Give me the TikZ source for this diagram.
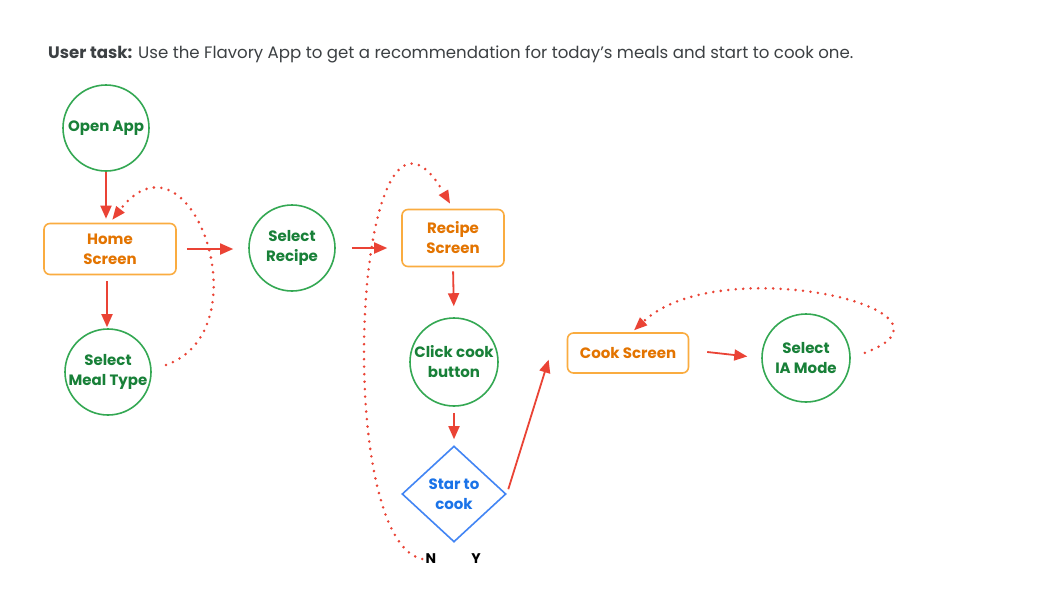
\documentclass[tikz,border=0pt]{standalone}
\usepackage{fontspec}
\setmainfont{Poppins}
\usetikzlibrary{positioning,calc,shapes.geometric,arrows.meta}
\definecolor{stepGreen}{RGB}{52,168,83}
\definecolor{stepGreenText}{RGB}{24,128,56}
\definecolor{screenOrange}{RGB}{250,172,64}
\definecolor{screenOrangeText}{RGB}{227,116,0}
\definecolor{choiceBlue}{RGB}{66,133,244}
\definecolor{choiceBlueText}{RGB}{26,115,232}
\definecolor{flowRed}{RGB}{234,67,53}
\definecolor{titleGray}{RGB}{60,64,67}
\tikzset{
  stepCircle/.style={circle,draw=stepGreen,line width=1.6pt,minimum size=86pt,inner sep=0pt,
    text=stepGreenText,align=center,font=\fontsize{15}{20}\selectfont\bfseries},
  screenBox/.style={rectangle,rounded corners=6pt,draw=screenOrange,line width=1.6pt,inner sep=0pt,
    text=screenOrangeText,align=center,font=\fontsize{15}{20}\selectfont\bfseries},
  choiceBox/.style={diamond,draw=choiceBlue,line width=1.6pt,minimum width=104pt,minimum height=96pt,
    inner sep=0pt,text=choiceBlueText,align=center,font=\fontsize{15}{20}\selectfont\bfseries},
  flowArrow/.style={draw=flowRed,line width=1.8pt,-{Triangle[length=13pt,width=11pt]}},
  loopArrow/.style={draw=flowRed,line width=2.8pt,line cap=round,dash pattern=on 0pt off 7.5pt,
    -{Triangle[length=13pt,width=11pt,line width=0pt]}}
}
\begin{document}
\begin{tikzpicture}[x=1pt,y=-1pt]
  \useasboundingbox[fill=white] (0,0) rectangle (1056,590);
  % task line
  \node[anchor=west,inner sep=0pt,text=titleGray,font=\fontsize{16.6}{20}\selectfont] (task) at (48,54)
    {\textbf{User task:} Use the Flavory App to get a recommendation for today’s meals and start to cook one.};
  % steps
  \node[stepCircle] (openApp) at (106,128) {Open App};
  \node[screenBox,minimum width=132pt,minimum height=51pt] (homeScreen) at (110,249) {Home\\Screen};
  \node[stepCircle] (mealType) at (108,372) {Select\\Meal Type};
  \node[stepCircle] (selectRecipe) at (292,248) {Select\\Recipe};
  \node[screenBox,minimum width=102pt,minimum height=57pt] (recipeScreen) at (453,238) {Recipe\\Screen};
  \node[stepCircle,minimum size=88pt] (clickCook) at (454,362) {Click cook\\button};
  \node[choiceBox] (startCook) at (454,494) {Star to\\cook};
  \node[font=\fontsize{14}{16}\selectfont\bfseries] (noLabel) at (431,559) {N};
  \node[font=\fontsize{14}{16}\selectfont\bfseries] (yesLabel) at (476,559) {Y};
  \node[screenBox,minimum width=121pt,minimum height=40pt] (cookScreen) at (628,353) {Cook Screen};
  \node[stepCircle,minimum size=88pt] (iaMode) at (806,358) {Select\\IA Mode};
  % arrows
  \draw[flowArrow,shorten >=4pt] (openApp.south) -- (openApp.south |- homeScreen.north);
  \draw[flowArrow,shorten <=6pt,shorten >=1pt] ([xshift=-3pt]homeScreen.south) -- ([xshift=-3pt]homeScreen.south |- mealType.north);
  \draw[flowArrow,shorten <=10pt,shorten >=15pt] (homeScreen.east) -- (homeScreen.east -| selectRecipe.west);
  \draw[flowArrow,shorten <=16pt,shorten >=14pt] (selectRecipe.east) -- (selectRecipe.east -| recipeScreen.west);
  \draw[flowArrow,shorten <=4pt,shorten >=11pt] (recipeScreen.south) -- (clickCook.north);
  \draw[flowArrow,shorten <=6pt,shorten >=6pt] (clickCook.south) -- (startCook.north);
  \draw[flowArrow,shorten <=5pt,shorten >=7pt] (startCook.east) -- ($(cookScreen.west)+(-16,0)$);
  \draw[flowArrow,shorten <=18pt,shorten >=14pt] ([yshift=3pt]cookScreen.east) -- (iaMode.west);
  % dotted loops
  \draw[loopArrow,shorten <=15pt,shorten >=4pt] ([yshift=2pt]mealType.east) .. controls (265,330) and (190,120) .. (homeScreen.north);
  \draw[loopArrow,shorten >=6pt] (noLabel.west) .. controls (330,540) and (355,40) .. (recipeScreen.north);
  \draw[loopArrow,shorten <=15pt,shorten >=3pt] (iaMode.east) .. controls (980,310) and (720,250) .. ([xshift=4pt]cookScreen.north);
\end{tikzpicture}
\end{document}
